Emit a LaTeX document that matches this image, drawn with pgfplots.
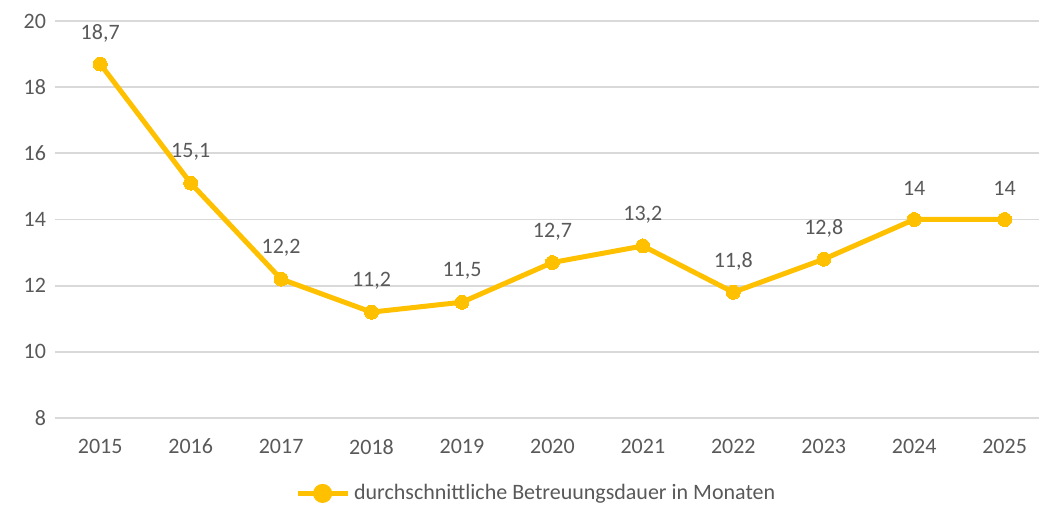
\documentclass[border=0pt]{standalone}
\usepackage{pgfplots}
\pgfplotsset{compat=1.18}
\usepackage{fontspec}
\setmainfont{Carlito}
\definecolor{gold}{HTML}{FFC000}
\definecolor{gridc}{HTML}{D9D9D9}
\definecolor{txt}{HTML}{595959}
\begin{document}
\begin{tikzpicture}
\begin{axis}[
  at={(27.5pt,45pt)}, anchor=south west,
  width=492pt, height=198.5pt, scale only axis,
  xmin=-0.5, xmax=10.38, ymin=8, ymax=20,
  ytick={8,10,...,20},
  xtick={0,...,10},
  xticklabels={2015,2016,2017,2018,2019,2020,2021,2022,2023,2024,2025},
  /pgf/number format/assume math mode=true,
  /pgf/number format/use comma,
  ymajorgrids, grid style={gridc, line width=0.9pt},
  axis line style={draw=none},
  tick style={draw=none},
  ticklabel style={font=\fontsize{11}{13}\selectfont, text=txt},
  xticklabel style={yshift=-7pt},
  yticklabel style={xshift=-1pt},
  clip=false,
  legend style={at={(0.49,-0.19)}, anchor=center, draw=none, font=\fontsize{11}{13}\selectfont, text=txt, legend columns=1},
  legend image code/.code={\draw[#1, line width=2.5pt] (0pt,0pt) -- (25pt,0pt); \fill[gold] (12.5pt,0pt) circle (3.5pt);},
  nodes near coords,
  nodes near coords style={anchor=center, yshift=15.5pt, font=\fontsize{11}{13}\selectfont, text=txt},
]
\addplot[gold, line width=2.5pt, mark=*, mark size=3.5pt, mark options={fill=gold, draw=gold, line width=0pt}] coordinates {
(0,18.7) (1,15.1) (2,12.2) (3,11.2) (4,11.5) (5,12.7) (6,13.2) (7,11.8) (8,12.8) (9,14) (10,14)
};
\addlegendentry{durchschnittliche Betreuungsdauer in Monaten}
\end{axis}
\pgfresetboundingbox
\path (0pt,0pt) rectangle (519.5pt,254pt);
\end{tikzpicture}
\end{document}
